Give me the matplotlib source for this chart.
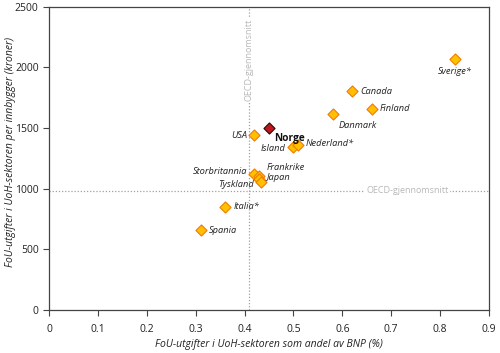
import matplotlib
matplotlib.use("Agg")
import matplotlib.pyplot as plt

plt.rcParams["font.family"] = ["Open Sans", "DejaVu Sans"]

# FoU-utgifter i UoH-sektoren: andel av BNP (%) og kroner per innbygger
countries = ["Sverige*", "Canada", "Finland", "Danmark", "USA", "Island",
             "Nederland*", "Storbritannia", "Frankrike", "Japan", "Tyskland",
             "Italia*", "Spania"]
share_gdp = [0.83, 0.62, 0.66, 0.58, 0.42, 0.50, 0.51, 0.42, 0.43, 0.43, 0.433,
             0.36, 0.31]
per_capita = [2070, 1805, 1660, 1612, 1442, 1346, 1357, 1121, 1105, 1083, 1055,
              851, 659]

norway_label = "Norge"
norway_share = 0.45
norway_value = 1502

oecd_share = 0.41
oecd_value = 982

# label offsets in points and alignment per country
label_pos = {
    "Sverige*": ((0, -6), "center", "top"),
    "Canada": ((6, 0), "left", "center"),
    "Finland": ((6, 0), "left", "center"),
    "Danmark": ((4, -5), "left", "top"),
    "USA": ((-5, 0), "right", "center"),
    "Island": ((-6, -1), "right", "center"),
    "Nederland*": ((5, 1), "left", "center"),
    "Storbritannia": ((-5, 1.5), "right", "center"),
    "Frankrike": ((5, 6), "left", "center"),
    "Japan": ((5, 0.5), "left", "center"),
    "Tyskland": ((-5, -1.5), "right", "center"),
    "Italia*": ((6, 0), "left", "center"),
    "Spania": ((6, 0), "left", "center"),
}

fig = plt.figure(figsize=(5.0, 3.53), dpi=100)
ax = fig.add_axes([0.098, 0.122, 0.88, 0.859])

ax.axvline(oecd_share, color="#a0a0a0", linestyle=(0, (1, 1.5)), linewidth=0.9, zorder=1)
ax.axhline(oecd_value, color="#a0a0a0", linestyle=(0, (1, 1.5)), linewidth=0.9, zorder=1)
ax.text(oecd_share, 2060, "OECD-gjennomsnitt", rotation=90, ha="center", va="center",
        fontsize=6.5, color="#b8b8b8", zorder=2,
        bbox=dict(facecolor="white", edgecolor="none", pad=1))
ax.text(0.734, oecd_value, "OECD-gjennomsnitt", ha="center", va="center",
        fontsize=6.5, color="#b8b8b8", zorder=2,
        bbox=dict(facecolor="white", edgecolor="none", pad=1))

ax.scatter(share_gdp, per_capita, marker="D", s=32, facecolor="#ffc000",
           edgecolor="#f07c00", linewidth=0.8, zorder=3)
ax.scatter([norway_share], [norway_value], marker="D", s=32, facecolor="#c0161c",
           edgecolor="#3a0000", linewidth=0.8, zorder=4)

for name, x, y in zip(countries, share_gdp, per_capita):
    off, ha, va = label_pos[name]
    ax.annotate(name, (x, y), xytext=off, textcoords="offset points",
                ha=ha, va=va, fontsize=6.7, style="italic", color="#222222")
ax.annotate(norway_label, (norway_share, norway_value), xytext=(4, -4),
            textcoords="offset points", ha="left", va="top", fontsize=7.3,
            fontweight="bold", color="#111111")

ax.set_xlim(0, 0.9)
ax.set_ylim(0, 2500)
ax.set_xticks([0, 0.1, 0.2, 0.3, 0.4, 0.5, 0.6, 0.7, 0.8, 0.9])
ax.set_xticklabels(["0", "0.1", "0.2", "0.3", "0.4", "0.5", "0.6", "0.7", "0.8", "0.9"])
ax.set_yticks([0, 500, 1000, 1500, 2000, 2500])
ax.tick_params(direction="out", length=4, width=0.8, color="#444444",
               labelsize=7.5, labelcolor="#222222")
ax.tick_params(axis="x", pad=6)
for s in ax.spines.values():
    s.set_color("#444444")
    s.set_linewidth(0.9)

ax.set_xlabel("FoU-utgifter i UoH-sektoren som andel av BNP (%)", fontsize=7.5,
              style="italic", color="#222222", labelpad=3)
ax.set_ylabel("FoU-utgifter i UoH-sektoren per innbygger (kroner)", fontsize=7.5,
              style="italic", color="#222222", va="center")
ax.yaxis.set_label_coords(-0.088, 0.52)

fig.savefig("out.png", dpi=100)
